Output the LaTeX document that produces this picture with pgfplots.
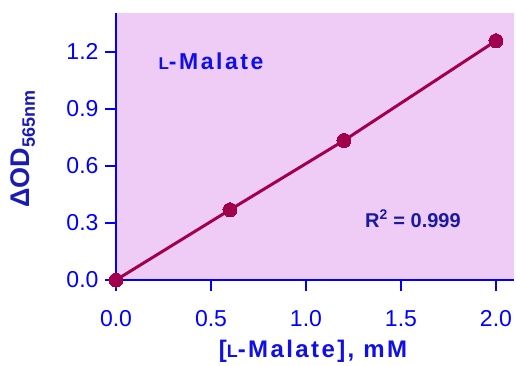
\documentclass[border=0pt]{standalone}
\usepackage{pgfplots}
\pgfplotsset{compat=1.18}
\usepackage{fontspec}
\setmainfont{Liberation Sans}
\definecolor{bg}{HTML}{EECCF6}
\definecolor{linec}{HTML}{A0004C}
\definecolor{axblue}{HTML}{0000FF}
\definecolor{labblue}{HTML}{1010E6}
\definecolor{ylabblue}{HTML}{1A1AB4}
\definecolor{rblue}{HTML}{1A1AA0}
\begin{document}
\begin{tikzpicture}
\path[use as bounding box] (-116pt,-85pt) rectangle (400pt,280pt);
\begin{axis}[
  at={(0pt,0pt)}, anchor=south west,
  scale only axis, width=398pt, height=267pt,
  xmin=0, xmax=2.095, ymin=0, ymax=1.403,
  axis lines*=left,
  axis background/.style={fill=bg},
  axis line style={axblue, line width=2pt},
  xtick={0,0.5,1,1.5,2}, ytick={0,0.3,0.6,0.9,1.2},
  tick align=outside, major tick length=11pt,
  tick style={axblue, line width=2pt},
  /pgf/number format/assume math mode=true,
  /pgf/number format/.cd, fixed, fixed zerofill, precision=1, /pgfplots/.cd,
  xticklabel style={font=\fontsize{23}{23}\selectfont, text=axblue, yshift=-16pt},
  yticklabel style={font=\fontsize{23}{23}\selectfont, text=axblue, xshift=-3pt},
  every axis x label/.style={at={(axis description cs:0.495,0)}, yshift=-71pt, anchor=center},
  every axis y label/.style={at={(axis description cs:0,0.49)}, xshift=-93pt, rotate=90, anchor=center},
  xlabel={\fontsize{24}{24}\selectfont\bfseries\addfontfeature{LetterSpace=10}\color{labblue}[{\fontsize{18}{18}\selectfont L}-Malate], mM},
  ylabel={\bfseries\color{ylabblue}\fontsize{27}{27}\selectfont ΔOD\raisebox{-5pt}{\fontsize{18}{18}\selectfont 565nm}},
  clip=false,
]
\addplot[linec, line width=3pt, mark=*, mark size=7pt, mark options={fill=linec, draw=linec, line width=0pt}]
  coordinates {(0,0) (0.6,0.369) (1.2,0.733) (2.0,1.257)};
\node[font=\fontsize{23}{23}\selectfont\bfseries\addfontfeature{LetterSpace=11}, text=labblue] at (axis cs:0.5,1.151) {{\fontsize{17}{17}\selectfont L}-Malate};
\node[font=\fontsize{20}{20}\selectfont\bfseries, text=rblue] at (axis cs:1.563,0.321) {R\textsuperscript{2} = 0.999};
\end{axis}
\end{tikzpicture}
\end{document}
